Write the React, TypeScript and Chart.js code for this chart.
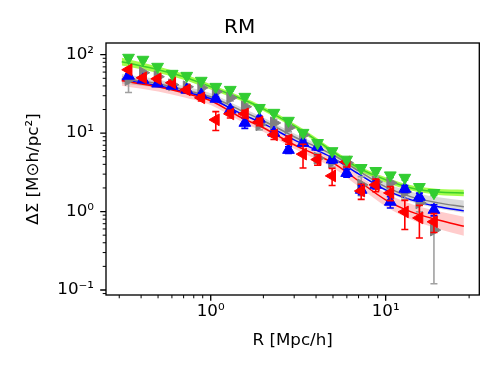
import React, { useEffect, useRef } from 'react';
import { Chart, registerables } from 'chart.js';
Chart.register(...registerables);

// Radial bins [Mpc/h]
const R = [0.339, 0.41, 0.497, 0.602, 0.729, 0.883, 1.069, 1.294, 1.567, 1.898, 2.298, 2.783, 3.37, 4.081, 4.942, 5.985, 7.248, 8.777, 10.63, 12.87, 15.59, 18.88];

// Measured ΔΣ per sample
const greenVals = [91.6, 86.4, 70.3, 57.2, 53.9, 46.6, 39.0, 35.7, 29.1, 21.0, 18.2, 14.4, 10.1, 7.5, 5.9, 4.6, 3.6, 3.3, 2.9, 2.7, 2.06, 1.73];
const greenErr = [3, 3, 2.5, 2, 2, 1.5, 1.3, 1.2, 1, 0.8, 0.7, 0.6, 0.5, 0.35, 0.3, 0.25, 0.2, 0.2, 0.18, 0.17, 0.14, 0.12];
const redVals = [64.3, 50.8, 49.3, 43.9, 35.7, 28.2, 14.8, 17.6, 17.6, 13.9, 9.5, 8.2, 5.4, 4.6, 2.85, 4.3, 1.83, 2.19, 1.73, 0.99, 0.83, 0.74];
const redErr = [3, 3, 3, 3, 2.8, 2.5, 4, 2, 2, 1.5, 1.2, 1.0, 1.8, 0.7, 0.7, 0.6, 0.4, 0.4, 0.35, 0.4, 0.37, 0.2];
const blueVals = [53.9, 48.0, 42.7, 40.2, 35.7, 30.8, 27.4, 19.9, 13.5, 15.2, 10.1, 6.1, 7.5, 6.7, 4.6, 3.1, 1.89, 2.19, 1.33, 1.95, 1.54, 1.05];
const blueErr = [3, 2.5, 2.3, 2, 2, 1.8, 1.6, 1.5, 2, 1.2, 0.9, 0.6, 0.6, 0.6, 0.45, 0.35, 0.25, 0.25, 0.22, 0.2, 0.18, 0.17];
const grayVals = [48.0, 58.9, 52.4, 41.4, 39.0, 37.9, 33.7, 28.2, 21.7, 12.8, 13.5, 11.7, 9.5, 4.8, 4.3, 4.2, 2.19, 2.39, 2.32, 1.78, 1.29, 0.58];
const grayErr = [15, 4, 4, 3.5, 3, 3, 3, 2.5, 2.2, 1.8, 1.5, 1.3, 1.1, 0.7, 0.6, 0.6, 0.6, 0.4, 0.4, 0.35, 0.3, 0.46];

// Model fits
const fitR = [0.31, 0.5, 0.7, 1, 1.5, 2, 3, 4, 5, 7, 10, 14, 20, 28];
const greenFit = [81.5, 64.3, 52.4, 39.0, 27.4, 20.4, 12.4, 8.2, 5.8, 3.6, 2.54, 2.0, 1.78, 1.73];
const greenLo = [72.8, 58.5, 48.1, 36.1, 25.6, 19.1, 11.6, 7.7, 5.4, 3.36, 2.35, 1.85, 1.63, 1.57];
const greenHi = [91.3, 70.7, 57.1, 42.1, 29.3, 21.8, 13.3, 8.8, 6.2, 3.85, 2.74, 2.16, 1.94, 1.9];
const redFit = [46.6, 39.0, 32.7, 25.9, 15.7, 11.7, 7.1, 5.3, 4.18, 2.46, 1.41, 0.99, 0.78, 0.65];
const redLo = [40.2, 33.9, 28.7, 22.9, 14.0, 10.4, 6.3, 4.65, 3.63, 2.08, 1.16, 0.79, 0.6, 0.49];
const redHi = [54.1, 44.9, 37.3, 29.3, 17.6, 13.1, 8.0, 6.0, 4.81, 2.9, 1.72, 1.25, 1.01, 0.86];
const grayFit = [49.3, 42.7, 35.7, 29.1, 19.3, 14.4, 9.0, 6.7, 5.3, 3.3, 2.06, 1.54, 1.29, 1.15];
const grayLo = [42.9, 37.8, 31.9, 26.2, 17.5, 13.1, 8.2, 6.1, 4.77, 2.95, 1.81, 1.33, 1.09, 0.96];
const grayHi = [56.7, 48.3, 40.0, 32.3, 21.2, 15.8, 9.9, 7.4, 5.9, 3.7, 2.35, 1.79, 1.52, 1.38];
const blueFit = [48.0, 40.2, 33.7, 27.4, 17.6, 13.2, 8.2, 6.1, 4.8, 3.02, 1.89, 1.41, 1.15, 1.02];

// Axis ticks
const xMajor = [1, 10];
const xMinor = [0.3, 0.4, 0.5, 0.6, 0.7, 0.8, 0.9, 2, 3, 4, 5, 6, 7, 8, 9, 20, 30];
const yMajor = [0.1, 1, 10, 100];
const yMinor = [0.09, 0.2, 0.3, 0.4, 0.5, 0.6, 0.7, 0.8, 0.9, 2, 3, 4, 5, 6, 7, 8, 9, 20, 30, 40, 50, 60, 70, 80, 90];
const labelMap: Record<string, string> = { '0.1': '10⁻¹', '1': '10⁰', '10': '10¹', '100': '10²' };

const FONT = 'DejaVu Sans';

const pts = (xs: number[], ys: number[]) => xs.map((x, i) => ({ x, y: ys[i] }));

const errorBarPlugin = {
  id: 'errbars',
  beforeDatasetDraw(chart: any, args: any) {
    const ds = chart.data.datasets[args.index];
    if (!ds.errors) return;
    const { ctx, chartArea } = chart;
    const xs = chart.scales.x;
    const ys = chart.scales.y;
    ctx.save();
    ctx.beginPath();
    ctx.rect(chartArea.left, chartArea.top, chartArea.right - chartArea.left, chartArea.bottom - chartArea.top);
    ctx.clip();
    ctx.strokeStyle = ds.errorColor;
    ctx.lineWidth = 1.6;
    ds.data.forEach((p: any, i: number) => {
      const e = ds.errors[i];
      const px = xs.getPixelForValue(p.x);
      const lo = Math.max(p.y - e, ys.min * 0.5);
      const yt = ys.getPixelForValue(p.y + e);
      const yb = ys.getPixelForValue(lo);
      ctx.beginPath();
      ctx.moveTo(px, yt);
      ctx.lineTo(px, yb);
      ctx.moveTo(px - 3.5, yt);
      ctx.lineTo(px + 3.5, yt);
      ctx.moveTo(px - 3.5, yb);
      ctx.lineTo(px + 3.5, yb);
      ctx.stroke();
    });
    ctx.restore();
  },
};

const framePlugin = {
  id: 'frame',
  afterDraw(chart: any) {
    const { ctx, chartArea: a } = chart;
    const xs = chart.scales.x;
    const ys = chart.scales.y;
    ctx.save();
    ctx.strokeStyle = '#000';
    ctx.lineWidth = 1.33;
    ctx.strokeRect(a.left, a.top, a.right - a.left, a.bottom - a.top);
    const tick = (vals: number[], len: number, w: number, axis: 'x' | 'y') => {
      ctx.lineWidth = w;
      ctx.beginPath();
      vals.forEach((v) => {
        if (axis === 'x') {
          const p = xs.getPixelForValue(v);
          if (p < a.left - 0.5 || p > a.right + 0.5) return;
          ctx.moveTo(p, a.bottom);
          ctx.lineTo(p, a.bottom + len);
        } else {
          const p = ys.getPixelForValue(v);
          if (p < a.top - 0.5 || p > a.bottom + 0.5) return;
          ctx.moveTo(a.left, p);
          ctx.lineTo(a.left - len, p);
        }
      });
      ctx.stroke();
    };
    tick(xMajor, 5.8, 1.33, 'x');
    tick(xMinor, 3.3, 1, 'x');
    tick(yMajor, 5.8, 1.33, 'y');
    tick(yMinor, 3.3, 1, 'y');
    ctx.restore();
  },
};

export default function App() {
  const ref = useRef<HTMLCanvasElement>(null);
  useEffect(() => {
    if (!ref.current) return;
    const marker = (label: string, vals: number[], errs: number[], color: string, errColor: string, rot: number, order: number) => ({
      type: 'line' as const,
      label,
      data: pts(R, vals),
      showLine: false,
      pointStyle: 'triangle',
      pointRotation: rot,
      pointRadius: 6.8,
      pointHoverRadius: 6.8,
      pointBackgroundColor: color,
      pointBorderColor: color,
      pointBorderWidth: 1,
      borderColor: color,
      backgroundColor: color,
      errors: errs,
      errorColor: errColor,
      order,
    });
    const line = (label: string, vals: number[], color: string, order: number) => ({
      type: 'line' as const,
      label,
      data: pts(fitR, vals),
      borderColor: color,
      borderWidth: 1.5,
      pointRadius: 0,
      cubicInterpolationMode: 'monotone',
      fill: false,
      order,
    });
    const band = (label: string, vals: number[], color: string, order: number, fill: any) => ({
      type: 'line' as const,
      label,
      data: pts(fitR, vals),
      borderWidth: 0,
      borderColor: 'transparent',
      backgroundColor: color,
      pointRadius: 0,
      cubicInterpolationMode: 'monotone',
      fill,
      order,
    });
    const chart = new Chart(ref.current, {
      type: 'line',
      data: {
        datasets: [
          band('red hi', redHi, 'rgba(255,0,0,0.2)', 20, '+1'),
          band('red lo', redLo, 'rgba(255,0,0,0.2)', 21, false),
          band('gray hi', grayHi, 'rgba(128,128,128,0.3)', 18, '+1'),
          band('gray lo', grayLo, 'rgba(128,128,128,0.3)', 19, false),
          band('green hi', greenHi, 'rgba(124,252,0,0.7)', 16, '+1'),
          band('green lo', greenLo, 'rgba(124,252,0,0.7)', 17, false),
          line('gray fit', grayFit, '#808080', 14),
          line('green fit', greenFit, '#3ccf2a', 13),
          line('blue fit', blueFit, '#0000ff', 12),
          line('red fit', redFit, '#ff0000', 11),
          marker('gray', grayVals, grayErr, '#808080', '#a0a0a0', 90, 4),
          marker('blue', blueVals, blueErr, '#0000ff', '#0000ff', 0, 3),
          marker('red', redVals, redErr, '#ff0000', '#ff0000', -90, 2),
          marker('green', greenVals, greenErr, '#32cd32', '#32cd32', 180, 1),
        ] as any,
      },
      options: {
        animation: false,
        responsive: false,
        devicePixelRatio: 1,
        events: [],
        layout: { padding: { left: 0, right: 18.7, top: 0, bottom: 0 } },
        plugins: {
          legend: { display: false },
          tooltip: { enabled: false },
          title: {
            display: true,
            text: 'RM',
            color: '#000',
            font: { family: FONT, size: 20, weight: 'normal' },
            padding: { top: 16, bottom: 3 },
          },
        },
        scales: {
          x: {
            type: 'logarithmic',
            min: 0.252,
            max: 34.3,
            grid: { display: false, drawTicks: false },
            border: { display: false },
            afterBuildTicks: (s: any) => {
              s.ticks = xMajor.map((v) => ({ value: v, major: true }));
            },
            afterFit: (s: any) => {
              s.height = 79;
            },
            ticks: {
              autoSkip: false,
              maxRotation: 0,
              padding: 7,
              color: '#000',
              font: { family: FONT, size: 16.7 },
              callback: (v: any) => labelMap[String(v)] ?? '',
            },
            title: {
              display: true,
              text: 'R [Mpc/h]',
              color: '#000',
              font: { family: FONT, size: 16.7 },
              padding: { top: 0, bottom: 23 },
            },
          },
          y: {
            type: 'logarithmic',
            min: 0.0863,
            max: 141,
            grid: { display: false, drawTicks: false },
            border: { display: false },
            afterBuildTicks: (s: any) => {
              s.ticks = yMajor.map((v) => ({ value: v, major: true }));
            },
            afterFit: (s: any) => {
              s.width = 106;
            },
            ticks: {
              autoSkip: false,
              padding: 12,
              color: '#000',
              font: { family: FONT, size: 16.7 },
              callback: (v: any) => labelMap[String(v)] ?? '',
            },
            title: {
              display: true,
              text: 'ΔΣ [M⊙h/pc²]',
              color: '#000',
              font: { family: FONT, size: 16.7 },
              padding: { top: 24, bottom: 0 },
            },
          },
        },
      } as any,
      plugins: [errorBarPlugin, framePlugin],
    });
    return () => chart.destroy();
  }, []);
  return (
    <div style={{ position: 'fixed', left: 0, top: 0, width: 498, height: 374, background: '#fff' }}>
      <canvas ref={ref} width={498} height={374} />
    </div>
  );
}
